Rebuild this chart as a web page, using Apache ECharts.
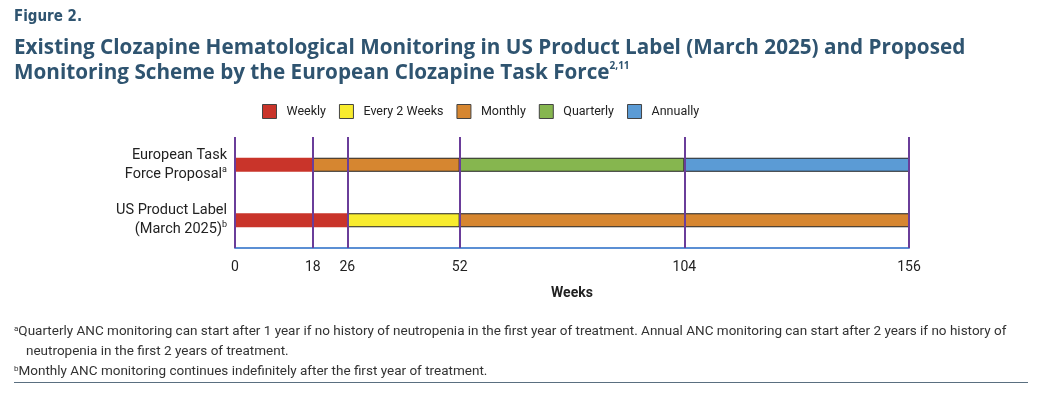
<!DOCTYPE html>
<html>
<head>
<meta charset="utf-8">
<script src="https://cdn.jsdelivr.net/npm/echarts@6/dist/echarts.min.js"></script>
<style>
  html, body { margin: 0; padding: 0; background: #fff; }
  #chart { width: 1042px; height: 396px; }
</style>
</head>
<body>
<div id="chart"></div>
<script>
// rows, top to bottom
const rows = ["European Task\nForce Proposal{sup|a}", "US Product Label\n(March 2025){sup|b}"];
// weeks spent in each monitoring frequency, per row (stacked in this order)
const weekly = [18, 26];
const every2Weeks = [0, 26];
const monthly = [34, 104];
const quarterly = [52, 0];
const annually = [52, 0];
const tickWeeks = [0, 18, 26, 52, 104, 156];

const colors = {
  Weekly: "#c9342a",
  "Every 2 Weeks": "#f8ec2e",
  Monthly: "#d68630",
  Quarterly: "#86b64f",
  Annually: "#5b9bd5",
};

const FONT = "Roboto";
const chart = echarts.init(document.getElementById("chart"));

const mkSeries = (name, data, border) => ({
  name: name,
  type: "bar",
  stack: "weeks",
  data: data,
  barWidth: 14,
  itemStyle: {
    color: colors[name],
    borderColor: border ? "#222" : colors[name],
    borderWidth: border ? 1 : 0,
  },
});

const series = [
  mkSeries("Weekly", weekly, false),
  mkSeries("Every 2 Weeks", every2Weeks, true),
  mkSeries("Monthly", monthly, true),
  mkSeries("Quarterly", quarterly, true),
  mkSeries("Annually", annually, true),
];
// purple week markers
series[0].markLine = {
  silent: true,
  symbol: "none",
  label: { show: false },
  lineStyle: { color: "#6a3d9a", width: 2, type: "solid" },
  data: tickWeeks.map((w) => ({ xAxis: w })),
};

const option = {
  animation: false,
  textStyle: { fontFamily: FONT },
  title: [
    {
      text: "Figure 2.",
      left: 14,
      top: 10,
      padding: 0,
      textStyle: { fontFamily: "DejaVu Sans Condensed", fontWeight: "bold", fontSize: 15, color: "#2f5470" },
    },
    {
      text: "Existing Clozapine Hematological Monitoring in US Product Label (March 2025) and Proposed\nMonitoring Scheme by the European Clozapine Task Force{sup|2,11}",
      left: 14,
      top: 36,
      padding: 0,
      textStyle: {
        fontFamily: "Open Sans",
        fontWeight: "bold",
        fontSize: 20.7,
        lineHeight: 25,
        color: "#2f5470",
        rich: {
          sup: { fontFamily: "Open Sans", fontWeight: "bold", fontSize: 10, color: "#2f5470", verticalAlign: "top", lineHeight: 25, padding: [0, 0, 10, 0] },
        },
      },
    },
  ],
  legend: {
    left: 262,
    top: 104,
    padding: 0,
    itemWidth: 14,
    itemHeight: 14,
    itemGap: 13,
    icon: "rect",
    itemStyle: { borderColor: "#444", borderWidth: 1 },
    textStyle: { fontSize: 12.5, color: "#222", padding: [0, 0, 0, 5], fontFamily: FONT },
    data: ["Weekly", "Every 2 Weeks", "Monthly", "Quarterly", "Annually"],
  },
  grid: { left: 235, right: 133, top: 137, bottom: 148 },
  xAxis: {
    type: "value",
    min: 0,
    max: 156,
    name: "Weeks",
    nameLocation: "middle",
    nameGap: 38,
    nameTextStyle: { fontWeight: "bold", fontSize: 14, color: "#222", fontFamily: FONT },
    axisLine: { show: true, lineStyle: { color: "#5b8fd4", width: 2 } },
    axisTick: { show: false },
    splitLine: { show: false },
    axisLabel: {
      customValues: tickWeeks,
      fontSize: 14,
      color: "#222",
      margin: 12,
      fontFamily: FONT,
    },
  },
  yAxis: {
    type: "category",
    inverse: true,
    data: rows,
    axisLine: { show: false },
    axisTick: { show: false },
    axisLabel: {
      margin: 8,
      fontSize: 14.5,
      lineHeight: 19,
      color: "#222",
      align: "right",
      fontFamily: FONT,
      rich: { sup: { fontSize: 9, lineHeight: 19, verticalAlign: "top", padding: [0, 0, 8, 0], color: "#222", fontFamily: FONT } },
    },
  },
  series: series,
  graphic: [
    {
      type: "text",
      left: 14,
      top: 325,
      style: {
        text: "{s|a}Quarterly ANC monitoring can start after 1 year if no history of neutropenia in the first year of treatment. Annual ANC monitoring can start after 2 years if no history of",
        font: "13.5px Roboto",
        fill: "#333",
        rich: { s: { fontSize: 8, fontFamily: FONT, verticalAlign: "top", padding: [0, 0, 6, 0] } },
      },
    },
    {
      type: "text",
      left: 26,
      top: 345,
      style: { text: "neutropenia in the first 2 years of treatment.", font: "13.5px Roboto", fill: "#333" },
    },
    {
      type: "text",
      left: 14,
      top: 365,
      style: {
        text: "{s|b}Monthly ANC monitoring continues indefinitely after the first year of treatment.",
        font: "13.5px Roboto",
        fill: "#333",
        rich: { s: { fontSize: 8, fontFamily: FONT, verticalAlign: "top", padding: [0, 0, 6, 0] } },
      },
    },
    {
      type: "line",
      shape: { x1: 14, y1: 382.5, x2: 1028, y2: 382.5 },
      style: { stroke: "#5a6f80", lineWidth: 1 },
    },
  ],
};

chart.setOption(option);
</script>
</body>
</html>
